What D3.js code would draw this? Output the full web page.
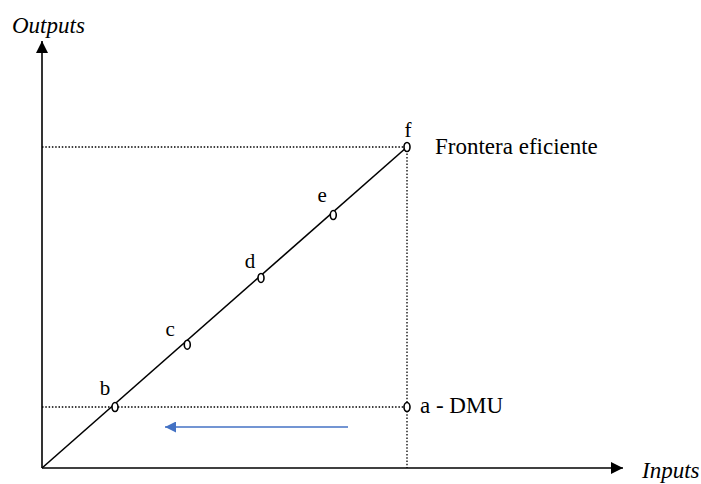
<!DOCTYPE html>
<html><head><meta charset="utf-8">
<script src="https://cdn.jsdelivr.net/npm/d3@7"></script>
<style>body{margin:0;background:#fff}svg{display:block}</style>
</head><body>
<svg id="c" width="701" height="484"></svg>
<script>
const labels = ["b","c","d","e","f"];
const inputs = [1.0, 1.99, 3.0, 3.99, 5.0];
const outputs = [0.95, 1.92, 2.96, 3.94, 5.0];
const dmu = {label:"a - DMU", input:5.0, output:0.95};
const frontierLabel = "Frontera eficiente";
const xTitle = "Inputs", yTitle = "Outputs";
// label placement (layout only)
const labelDx = [-10, -17, -11, -11, 1];
const labelDy = [-12, -9, -10, -13, -10];

const FONT = "'Liberation Serif', 'Times New Roman', 'DejaVu Serif', serif";
const svg = d3.select("#c");
const x = d3.scaleLinear().domain([0,5]).range([42,407]);
const y = d3.scaleLinear().domain([0,5]).range([468,147]);
const x0 = x(0), y0 = y(0);

const defs = svg.append("defs");
defs.append("marker").attr("id","ah").attr("viewBox","0 0 10 10").attr("refX",10).attr("refY",5)
  .attr("markerWidth",12).attr("markerHeight",12).attr("markerUnits","userSpaceOnUse").attr("orient","auto")
  .append("path").attr("d","M0,0L10,5L0,10Z").attr("fill","#000");
defs.append("marker").attr("id","bh").attr("viewBox","0 0 10 10").attr("refX",10).attr("refY",5)
  .attr("markerWidth",12).attr("markerHeight",11).attr("markerUnits","userSpaceOnUse").attr("orient","auto")
  .append("path").attr("d","M0,0L10,5L0,10Z").attr("fill","#4472C4");

const dot = {stroke:"#000","stroke-width":1.3,"stroke-dasharray":"1.5,1.8"};
function line(x1,y1,x2,y2,st){const l=svg.append("line").attr("x1",x1).attr("y1",y1).attr("x2",x2).attr("y2",y2);for(const k in st)l.attr(k,st[k]);return l;}
const fi = inputs.length-1;
line(x0, y(outputs[fi]), x(inputs[fi]), y(outputs[fi]), dot);
line(x(inputs[fi]), y(outputs[fi]), x(inputs[fi]), y0, dot);
line(x0, y(dmu.output), x(dmu.input), y(dmu.output), dot);

line(x0, y0, x0, 41, {stroke:"#000","stroke-width":1.6,"marker-end":"url(#ah)"});
line(x0, y0, 623, y0, {stroke:"#000","stroke-width":1.6,"marker-end":"url(#ah)"});

line(x0, y0, x(inputs[fi]), y(outputs[fi]), {stroke:"#000","stroke-width":1.6});

line(348, 427, 165, 427, {stroke:"#4472C4","stroke-width":1.3,"marker-end":"url(#bh)"});

const pts = inputs.map((v,i)=>({label:labels[i],x:v,y:outputs[i],dx:labelDx[i],dy:labelDy[i]}));
svg.selectAll("ellipse.p").data(pts.concat([{label:"a",x:dmu.input,y:dmu.output}])).enter().append("ellipse")
  .attr("cx",d=>x(d.x)).attr("cy",d=>y(d.y)).attr("rx",3).attr("ry",4.5)
  .attr("fill","#fff").attr("stroke","#000").attr("stroke-width",1.6);

function txt(){return svg.append("text").attr("font-family",FONT).attr("fill","#000");}
pts.forEach(d=>{
  txt().attr("x", x(d.x)+d.dx).attr("y", y(d.y)+d.dy)
    .attr("text-anchor","middle").attr("font-size",21).text(d.label);
});
txt().attr("x",435).attr("y",y(outputs[fi])+7).attr("font-size",23).text(frontierLabel);
txt().attr("x",x(dmu.input)+13).attr("y",y(dmu.output)+6).attr("font-size",23).text(dmu.label);
txt().attr("x",12).attr("y",33).attr("font-size",23).attr("font-style","italic").text(yTitle);
txt().attr("x",642).attr("y",478).attr("font-size",23).attr("font-style","italic").text(xTitle);
</script>
</body></html>
